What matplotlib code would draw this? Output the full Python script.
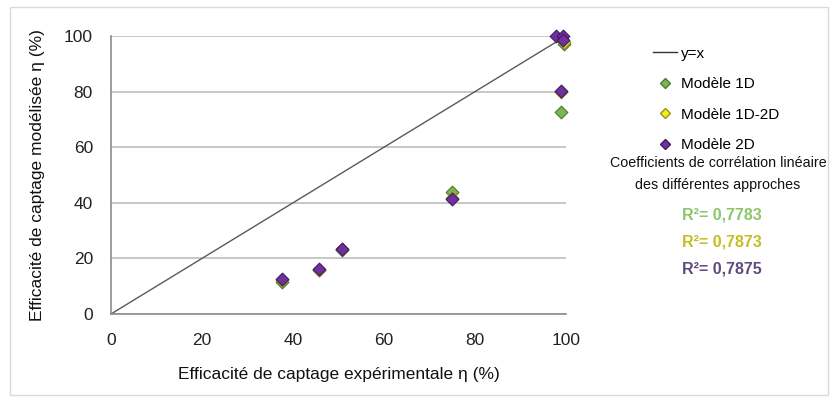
import matplotlib
matplotlib.use("Agg")
import matplotlib.pyplot as plt
from matplotlib.lines import Line2D
from matplotlib.patches import Rectangle

plt.rcParams['font.family'] = ['Liberation Sans', 'DejaVu Sans']

# Data
x_1d = [37.5, 45.8, 50.8, 75.0, 99.0, 99.5]
y_1d = [11.6, 15.8, 23.0, 44.0, 72.5, 97.0]
x_1d2d = [37.5, 45.8, 50.8, 75.0, 99.0, 99.5]
y_1d2d = [12.2, 16.0, 23.3, 41.6, 80.0, 98.0]
x_2d = [37.5, 45.8, 50.8, 75.0, 99.0, 97.8, 99.3, 99.4]
y_2d = [12.5, 16.2, 23.4, 41.4, 80.2, 100.0, 100.0, 98.5]
xticks = [0, 20, 40, 60, 80, 100]
yticks = [0, 20, 40, 60, 80, 100]
labels = ['y=x', 'Modèle 1D', 'Modèle 1D-2D', 'Modèle 2D']
r2_values = ['0,7783', '0,7873', '0,7875']

c_green = '#7DB551'
c_yellow = '#F2EC1E'
c_purple = '#7030A0'

fig = plt.figure(figsize=(8.31, 4.01), dpi=100)
fig.patches.append(Rectangle((10/831, 1-395/401), 818/831, 388/401, transform=fig.transFigure,
                             fill=False, edgecolor='#D9D9D9', linewidth=1))
ax = fig.add_axes([111/831, 1-314/401, 455/831, 278/401])
ax.set_xlim(0, 100)
ax.set_ylim(0, 100)
ax.set_xticks(xticks)
ax.set_yticks(yticks)
ax.tick_params(length=0, labelsize=12.5, pad=14, colors='#222222')
ax.tick_params(axis='y', pad=13)
for s in ['top', 'right']:
    ax.spines[s].set_visible(False)
for s in ['left', 'bottom']:
    ax.spines[s].set_color('#8C8C8C')
    ax.spines[s].set_linewidth(1.2)
ax.yaxis.grid(True, color='#BDBDBD', linewidth=1.2)
ax.set_axisbelow(True)

ax.plot([0, 100], [0, 100], color='#595959', linewidth=1, zorder=2)
ax.scatter(x_1d, y_1d, marker='D', s=42, color=c_green, edgecolors='#4E7A33', linewidths=0.8,
           zorder=3, clip_on=False)
ax.scatter(x_1d2d, y_1d2d, marker='D', s=42, color=c_yellow, edgecolors='#9A9410', linewidths=0.8,
           zorder=4, clip_on=False)
ax.scatter(x_2d, y_2d, marker='D', s=42, color=c_purple, edgecolors='#3F1A5E', linewidths=0.8,
           zorder=5, clip_on=False)

ax.set_xlabel('Efficacité de captage expérimentale η (%)', fontsize=12.5, labelpad=13, color='#111111')
ax.set_ylabel('Efficacité de captage modélisée η (%)', fontsize=12.5, labelpad=14, color='#111111')

handles = [
    Line2D([], [], color='#333333', linewidth=1),
    Line2D([], [], marker='D', linestyle='none', markersize=5, color=c_green, markeredgecolor='#4E7A33'),
    Line2D([], [], marker='D', linestyle='none', markersize=5, color=c_yellow, markeredgecolor='#9A9410'),
    Line2D([], [], marker='D', linestyle='none', markersize=5, color=c_purple, markeredgecolor='#3F1A5E'),
]
leg = fig.legend(handles, labels, loc='upper left', bbox_to_anchor=(645/831, 1-39/401),
                 frameon=False, fontsize=11, labelspacing=1.08, handlelength=1.6,
                 handletextpad=0.25, borderpad=0)

fig.text(718/831, 1-163/401, 'Coefficients de corrélation linéaire', ha='center', va='center',
         fontsize=10.3, color='#111111')
fig.text(718/831, 1-185/401, 'des différentes approches', ha='center', va='center',
         fontsize=10.3, color='#111111')
r2_colors = ['#8CC56A', '#C3BE22', '#5F4B7D']
r2_y = [215, 242, 269]
for v, c, yy in zip(r2_values, r2_colors, r2_y):
    fig.text(722/831, 1-yy/401, 'R²= ' + v, ha='center', va='center', fontsize=11.5,
             fontweight='bold', color=c)

fig.savefig('out.png', dpi=100)
